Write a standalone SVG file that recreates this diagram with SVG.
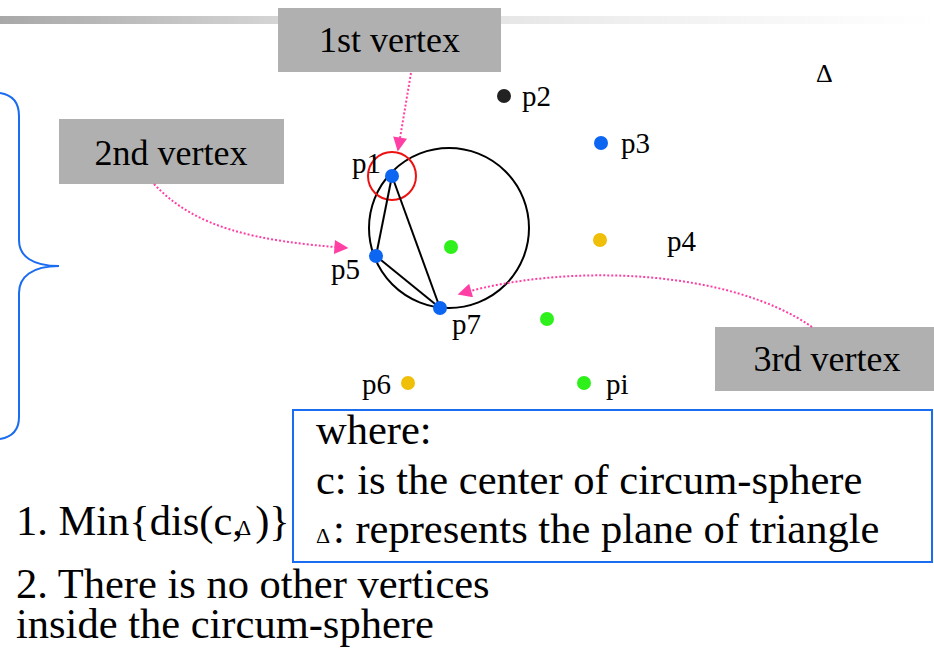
<svg xmlns="http://www.w3.org/2000/svg" width="934" height="648" viewBox="0 0 934 648">
<defs>
<linearGradient id="bar" x1="0" y1="0" x2="1" y2="0">
<stop offset="0" stop-color="#a8a8a8"/>
<stop offset="0.3" stop-color="#d5d5d5"/>
<stop offset="0.68" stop-color="#f0f0f0"/>
<stop offset="1" stop-color="#ffffff"/>
</linearGradient>
<marker id="pink" viewBox="0 0 10 10" refX="9" refY="5" markerWidth="16" markerHeight="14" markerUnits="userSpaceOnUse" orient="auto">
<path d="M0,0 L10,5 L0,10 Z" fill="#ff3fa4"/>
</marker>
<style>
.t{font-family:"Liberation Serif","Times New Roman",serif;fill:#000}
.box{fill:#b0b0b0}
.lbl{font-size:36px}
.pl{font-size:29px}
.big{font-size:42.5px}
.conn{fill:none;stroke:#ff3fa4;stroke-width:2;stroke-dasharray:2 2}
.blue{fill:#0d66f2}
.green{fill:#2ef01a}
.orange{fill:#efbf0a}
.tri{stroke:#000;stroke-width:2;fill:none}
</style>
</defs>
<rect x="0" y="16" width="934" height="8" fill="url(#bar)"/>
<path id="brace" d="M0,93 C13,95 19,103 19,116 L19,240 C19,256 32,266 59,266 C32,266 19,277 19,293 L19,417 C19,430 12,437 0,439" fill="none" stroke="#1a6cf0" stroke-width="2"/>
<g id="circles">
<circle cx="449" cy="228" r="80" fill="none" stroke="#000" stroke-width="2"/>
<circle cx="392" cy="176" r="24" fill="none" stroke="#ee1111" stroke-width="2"/>
</g>
<g id="triangle">
<line class="tri" x1="392" y1="176" x2="376" y2="256"/>
<line class="tri" x1="376" y1="256" x2="440" y2="308"/>
<line class="tri" x1="392" y1="176" x2="440" y2="308"/>
</g>
<g id="p1"><circle class="blue" cx="392" cy="176" r="7"/><text class="t pl" x="352" y="173">p1</text></g>
<g id="p2"><circle cx="504" cy="96" r="7" fill="#222"/><text class="t pl" x="522" y="106">p2</text></g>
<g id="p3"><circle class="blue" cx="601" cy="143" r="7"/><text class="t pl" x="621" y="153">p3</text></g>
<g id="p4"><circle class="orange" cx="600" cy="240" r="7"/><text class="t pl" x="667" y="251">p4</text></g>
<g id="p5"><circle class="blue" cx="376" cy="256" r="7"/><text class="t pl" x="331" y="279">p5</text></g>
<g id="p6"><circle class="orange" cx="408" cy="383" r="7"/><text class="t pl" x="362" y="394">p6</text></g>
<g id="p7"><circle class="blue" cx="440" cy="308" r="7"/><text class="t pl" x="452" y="334">p7</text></g>
<g id="pi"><circle class="green" cx="584" cy="383" r="7"/><text class="t pl" x="606" y="394">pi</text></g>
<g id="g1"><circle class="green" cx="451" cy="247" r="7"/></g>
<g id="g2"><circle class="green" cx="547" cy="319" r="7"/></g>
<g id="delta"><text class="t" x="816" y="82" font-size="26">Δ</text></g>
<g id="v1"><rect class="box" x="278" y="8" width="223" height="64"/><text class="t lbl" x="389.5" y="52" text-anchor="middle">1st vertex</text></g>
<g id="v2"><rect class="box" x="59" y="119" width="225" height="65"/><text class="t lbl" x="171" y="165" text-anchor="middle">2nd vertex</text></g>
<g id="v3"><rect class="box" x="715" y="327" width="219" height="64"/><text class="t lbl" x="827" y="371" text-anchor="middle">3rd vertex</text></g>
<g id="connectors">
<path class="conn" d="M411,73 L398,150" marker-end="url(#pink)"/>
<path class="conn" d="M154,184 C195,228 255,241 347,248" marker-end="url(#pink)"/>
<path class="conn" d="M812,327 C730,270 570,262 459,294" marker-end="url(#pink)"/>
</g>
<g id="where">
<rect x="293" y="410" width="639" height="152" fill="none" stroke="#1a6cf0" stroke-width="2"/>
<text class="t big" x="316" y="444">where:</text>
<text class="t big" x="316" y="494">c: is the center of circum-sphere</text>
<text class="t" x="316" y="543" font-size="22">Δ</text>
<text class="t big" x="333" y="543">: represents the plane of triangle</text>
</g>
<g id="conditions">
<text class="t big" x="16" y="535">1. Min{dis(c,<tspan font-size="22" dx="-6">Δ</tspan><tspan dx="4">)}</tspan></text>
<text class="t big" x="16" y="598">2. There is no other vertices</text>
<text class="t big" x="16" y="638">inside the circum-sphere</text>
</g>
</svg>
